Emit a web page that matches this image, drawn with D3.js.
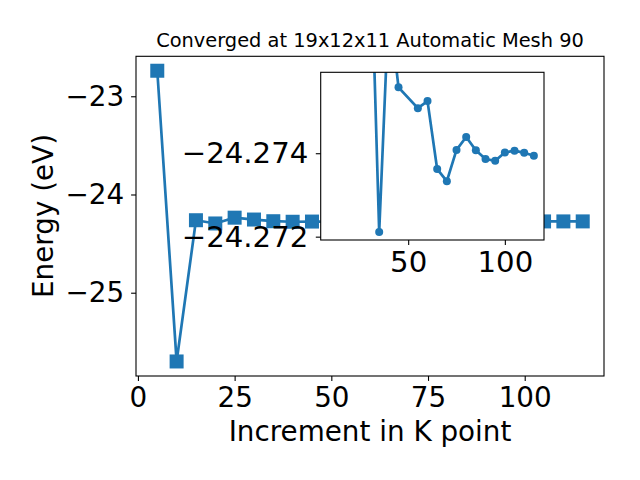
<!DOCTYPE html>
<html>
<head>
<meta charset="utf-8">
<script src="https://cdn.jsdelivr.net/npm/d3@7"></script>
<style>
body { margin: 0; background: #fff; }
svg { font-family: "DejaVu Sans", sans-serif; }
</style>
</head>
<body>
<svg width="640" height="480"></svg>
<script>
// k point increment (x) and total energy (y) for the main plot
var kPoints = [5, 10, 15, 20, 25, 30, 35, 40, 45, 50, 55, 60, 65, 70, 75, 80, 85, 90, 95, 100, 105, 110, 115];
var energy = [-22.74, -25.70, -24.262, -24.295, -24.236, -24.255, -24.2721, -24.2776, -24.2756, -24.2753, -24.2751, -24.2753,
	-24.2736, -24.2733, -24.2741, -24.2744, -24.2741, -24.2739, -24.2738, -24.2740, -24.2741, -24.2740, -24.2739];

// zoomed inset (50 not sampled here)
var insetK = [30, 35, 40, 45, 55, 60, 65, 70, 75, 80, 85, 90, 95, 100, 105, 110, 115];
var insetEnergy = [-24.2800, -24.27211, -24.27760, -24.27558, -24.27508, -24.27525, -24.27362, -24.27333, -24.27408,
	-24.27439, -24.27407, -24.27386, -24.27382, -24.27402, -24.27406, -24.27401, -24.27394];

var xTicks = [0, 25, 50, 75, 100];
var yTicks = [-25, -24, -23];
var insetXTicks = [50, 100];
var insetYTicks = [-24.274, -24.272];

var blue = '#1f77b4';
var fs = '27.8px';
var fsInset = '29.2px';
var svg = d3.select('svg');

// main axes box
var mLeft = 136, mRight = 604, mTop = 56.3, mBottom = 376;

var x = d3.scaleLinear().domain([-0.5, 120.5]).range([mLeft, mRight]);
var y = d3.scaleLinear().domain([-25.848, -22.593]).range([mBottom, mTop]);

var line = d3.line().x(d => x(d[0])).y(d => y(d[1]));
var pts = d3.zip(kPoints, energy);

svg.append('path').datum(pts)
	.attr('d', line)
	.style('fill', 'none').style('stroke', blue).style('stroke-width', 2.7);

svg.selectAll('rect.sq').data(pts).enter().append('rect')
	.attr('class', 'sq')
	.attr('x', d => x(d[0]) - 7).attr('y', d => y(d[1]) - 7)
	.attr('width', 14).attr('height', 14)
	.style('fill', blue);

svg.append('rect')
	.attr('x', mLeft).attr('y', mTop).attr('width', mRight - mLeft).attr('height', mBottom - mTop)
	.style('fill', 'none').style('stroke', '#000').style('stroke-width', 1.1);

var xAxis = svg.append('g').attr('transform', 'translate(0,' + mBottom + ')')
	.call(d3.axisBottom(x).tickValues(xTicks).tickSize(4.9).tickPadding(6.1).tickFormat(d3.format('d')));
var yAxis = svg.append('g').attr('transform', 'translate(' + mLeft + ',0)')
	.call(d3.axisLeft(y).tickValues(yTicks).tickSize(4.9).tickPadding(7).tickFormat(d3.format('d')));

// inset axes
var iLeft = 320.7, iRight = 544, iTop = 72.3, iBottom = 240;
var xi = d3.scaleLinear().domain([4.75, 120.25]).range([iLeft, iRight]);
var yi = d3.scaleLinear().domain([-24.27594, -24.27192]).range([iTop, iBottom]);

svg.append('rect')
	.attr('x', iLeft).attr('y', iTop).attr('width', iRight - iLeft).attr('height', iBottom - iTop)
	.style('fill', '#fff');

svg.append('clipPath').attr('id', 'insetclip').append('rect')
	.attr('x', iLeft).attr('y', iTop).attr('width', iRight - iLeft).attr('height', iBottom - iTop);

var inset = svg.append('g').attr('clip-path', 'url(#insetclip)');
var ipts = d3.zip(insetK, insetEnergy);
inset.append('path').datum(ipts)
	.attr('d', d3.line().x(d => xi(d[0])).y(d => yi(d[1])))
	.style('fill', 'none').style('stroke', blue).style('stroke-width', 2.7);
inset.selectAll('circle').data(ipts).enter().append('circle')
	.attr('cx', d => xi(d[0])).attr('cy', d => yi(d[1])).attr('r', 4)
	.style('fill', blue);

svg.append('rect')
	.attr('x', iLeft).attr('y', iTop).attr('width', iRight - iLeft).attr('height', iBottom - iTop)
	.style('fill', 'none').style('stroke', '#000').style('stroke-width', 1.1);

var ixAxis = svg.append('g').attr('transform', 'translate(0,' + iBottom + ')')
	.call(d3.axisBottom(xi).tickValues(insetXTicks).tickSize(4.9).tickPadding(6.1).tickFormat(d3.format('d')));
var iyAxis = svg.append('g').attr('transform', 'translate(' + iLeft + ',0)')
	.call(d3.axisLeft(yi).tickValues(insetYTicks).tickSize(4.9).tickPadding(7.5).tickFormat(d3.format('.3f')));

[xAxis, yAxis, ixAxis, iyAxis].forEach(function(g){
	g.select('.domain').remove();
	g.selectAll('line').style('stroke', '#000').style('stroke-width', 1.1);
	g.selectAll('text').style('font-size', fs).style('fill', '#000')
		.style('font-family', '"DejaVu Sans", sans-serif');
});
ixAxis.selectAll('text').style('font-size', fsInset);
iyAxis.selectAll('text').style('font-size', fsInset);
yAxis.selectAll('text').attr('dy', '0.33em');
iyAxis.selectAll('text').attr('dy', '0.33em');

// labels
svg.append('text').attr('x', 370).attr('y', 47.3).attr('text-anchor', 'middle')
	.style('font-size', '19.4px').text('Converged at 19x12x11 Automatic Mesh 90');
svg.append('text').attr('x', 370).attr('y', 440.7).attr('text-anchor', 'middle')
	.style('font-size', fs).text('Increment in K point');
svg.append('text').attr('transform', 'translate(53,216) rotate(-90)').attr('text-anchor', 'middle')
	.style('font-size', fs).text('Energy (eV)');
</script>
</body>
</html>
